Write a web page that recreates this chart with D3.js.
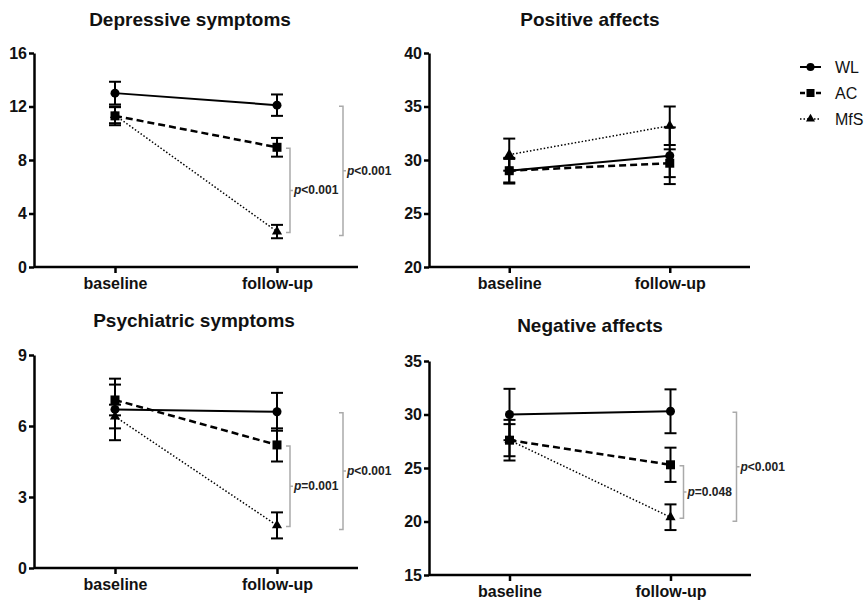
<!DOCTYPE html>
<html>
<head>
<meta charset="utf-8">
<script src="https://d3js.org/d3.v7.min.js"></script>
<style>
  body { margin: 0; background: #fff; }
  svg { display: block; font-family: Arial, 'Liberation Sans', Helvetica, sans-serif; }
</style>
</head>
<body>
<script>
// Groups and time points
const groups = ['WL', 'AC', 'MfS']
const timepoints = ['baseline', 'follow-up']

// Depressive symptoms (rows follow groups, columns follow timepoints)
const depressiveMeans = [[13.0, 12.1], [11.3, 8.95], [11.35, 2.65]]
const depressiveErrors = [[0.85, 0.8], [0.7, 0.7], [0.6, 0.5]]
const depressiveTicks = [0, 4, 8, 12, 16]
const depressiveBrackets = [
  { top: 'AC', bottom: 'MfS', label: '<0.001' },
  { top: 'WL', bottom: 'MfS', label: '<0.001' }
]

// Positive affects
const positiveMeans = [[29.0, 30.4], [29.0, 29.7], [30.5, 33.2]]
const positiveErrors = [[1.2, 2.65], [1.1, 1.3], [1.5, 1.8]]
const positiveTicks = [20, 25, 30, 35, 40]

// Psychiatric symptoms
const psychiatricMeans = [[6.7, 6.6], [7.1, 5.2], [6.4, 1.8]]
const psychiatricErrors = [[1.3, 0.8], [0.65, 0.7], [0.5, 0.55]]
const psychiatricTicks = [0, 3, 6, 9]
const psychiatricBrackets = [
  { top: 'AC', bottom: 'MfS', label: '=0.001' },
  { top: 'WL', bottom: 'MfS', label: '<0.001' }
]

// Negative affects
const negativeMeans = [[30.0, 30.3], [27.6, 25.3], [27.6, 20.4]]
const negativeErrors = [[2.4, 2.05], [1.5, 1.6], [1.9, 1.2]]
const negativeTicks = [15, 20, 25, 30, 35]
const negativeBrackets = [
  { top: 'AC', bottom: 'MfS', label: '=0.048' },
  { top: 'WL', bottom: 'MfS', label: '<0.001' }
]

const width = 868
const height = 604

const lineStyle = {
  WL: { dash: null, width: 2 },
  AC: { dash: '7,4', width: 2.5 },
  MfS: { dash: '1.5,2', width: 1.5 }
}

const panels = [
  { title: 'Depressive symptoms', means: depressiveMeans, errors: depressiveErrors, ticks: depressiveTicks, brackets: depressiveBrackets, box: { left: 34, right: 358, top: 53, bottom: 267 }, titleX: 190, titleY: 26 },
  { title: 'Positive affects', means: positiveMeans, errors: positiveErrors, ticks: positiveTicks, brackets: [], box: { left: 429, right: 750, top: 53, bottom: 267 }, titleX: 590, titleY: 26 },
  { title: 'Psychiatric symptoms', means: psychiatricMeans, errors: psychiatricErrors, ticks: psychiatricTicks, brackets: psychiatricBrackets, box: { left: 34, right: 358, top: 355, bottom: 568 }, titleX: 194, titleY: 327 },
  { title: 'Negative affects', means: negativeMeans, errors: negativeErrors, ticks: negativeTicks, brackets: negativeBrackets, box: { left: 429, right: 751, top: 361, bottom: 575 }, titleX: 590, titleY: 332 }
]

const svg = d3.select('body').append('svg')
  .attr('width', width)
  .attr('height', height)

svg.append('rect').attr('width', width).attr('height', height).attr('fill', '#fff')

function drawMarker (sel, group, size) {
  if (group === 'WL') {
    sel.append('circle').attr('r', size * 0.5).attr('fill', '#000')
  } else if (group === 'AC') {
    sel.append('rect').attr('x', -size / 2).attr('y', -size / 2)
      .attr('width', size).attr('height', size).attr('fill', '#000')
  } else {
    sel.append('path').attr('d', d3.symbol(d3.symbolTriangle, size * size * 0.55)())
      .attr('fill', '#000')
  }
}

panels.forEach((p) => {
  const g = svg.append('g')
  const x = d3.scalePoint().domain(timepoints).range([p.box.left, p.box.right]).padding(0.5)
  const y = d3.scaleLinear().domain(d3.extent(p.ticks)).range([p.box.bottom, p.box.top])

  // title
  g.append('text')
    .attr('x', p.titleX)
    .attr('y', p.titleY)
    .attr('text-anchor', 'middle')
    .attr('font-size', 19)
    .attr('font-weight', 'bold')
    .attr('fill', '#111')
    .text(p.title)

  // axes
  const yAxis = g.append('g')
    .attr('transform', `translate(${p.box.left},0)`)
    .call(d3.axisLeft(y).tickValues(p.ticks).tickSize(5).tickPadding(2).tickSizeOuter(0))
  const xAxis = g.append('g')
    .attr('transform', `translate(0,${p.box.bottom})`)
    .call(d3.axisBottom(x).tickSize(6).tickPadding(5).tickSizeOuter(0))
  xAxis.select('.domain').attr('d', `M${p.box.left},0H${p.box.right}`)

  ;[yAxis, xAxis].forEach((a) => {
    a.select('.domain').attr('stroke', '#000').attr('stroke-width', 2.5)
    a.selectAll('.tick line').attr('stroke', '#000').attr('stroke-width', 2.5)
    a.selectAll('.tick text')
      .attr('font-size', 16)
      .attr('font-weight', 'bold')
      .attr('fill', '#111')
      .style('font-family', 'Arial, "Liberation Sans", Helvetica, sans-serif')
  })

  // lines
  groups.forEach((grp, gi) => {
    const pts = timepoints.map((t, ti) => [x(t), y(p.means[gi][ti])])
    g.append('path')
      .attr('d', d3.line()(pts))
      .attr('fill', 'none')
      .attr('stroke', '#000')
      .attr('stroke-width', lineStyle[grp].width)
      .attr('stroke-dasharray', lineStyle[grp].dash)
  })

  // error bars and markers (draw from last group to first so WL is on top)
  groups.slice().reverse().forEach((grp) => {
    const gi = groups.indexOf(grp)
    timepoints.forEach((t, ti) => {
      const m = p.means[gi][ti]
      const e = p.errors[gi][ti]
      const cx = x(t)
      const eb = g.append('g').attr('stroke', '#000').attr('stroke-width', 2)
      eb.append('line').attr('x1', cx).attr('x2', cx).attr('y1', y(m - e)).attr('y2', y(m + e))
      eb.append('line').attr('x1', cx - 6).attr('x2', cx + 6).attr('y1', y(m - e)).attr('y2', y(m - e))
      eb.append('line').attr('x1', cx - 6).attr('x2', cx + 6).attr('y1', y(m + e)).attr('y2', y(m + e))
      const mk = g.append('g').attr('transform', `translate(${cx},${y(m)})`)
      drawMarker(mk, grp, 9)
    })
  })

  // significance brackets at follow-up
  const fx = x('follow-up')
  p.brackets.forEach((b, bi) => {
    const bx = fx + (bi === 0 ? 13 : 66)
    const y1 = y(p.means[groups.indexOf(b.top)][1]) + 1
    const y2 = y(p.means[groups.indexOf(b.bottom)][1]) + (bi === 0 ? 1 : 4)
    const ym = (y1 + y2) / 2
    g.append('path')
      .attr('d', `M${bx - 4},${y1}H${bx}V${y2}H${bx - 4}M${bx},${ym}H${bx + 3}`)
      .attr('fill', 'none')
      .attr('stroke', '#aaa')
      .attr('stroke-width', 1.5)
    const lbl = g.append('text')
      .attr('x', bx + 4)
      .attr('y', ym + 4)
      .attr('font-size', 12)
      .attr('font-weight', 'bold')
      .attr('fill', '#222')
    lbl.append('tspan').attr('font-style', 'italic').text('p')
    lbl.append('tspan').text(b.label)
  })
})

// legend
const legend = svg.append('g').attr('transform', 'translate(800,67)')
groups.forEach((grp, i) => {
  const row = legend.append('g').attr('transform', `translate(0,${i * 26})`)
  row.append('line')
    .attr('x1', 0).attr('x2', 21)
    .attr('stroke', '#000')
    .attr('stroke-width', lineStyle[grp].width)
    .attr('stroke-dasharray', lineStyle[grp].dash === null ? null : (grp === 'AC' ? '5,3' : '1.5,2'))
  const mk = row.append('g').attr('transform', 'translate(10.5,0)')
  drawMarker(mk, grp, 8)
  row.append('text')
    .attr('x', 35)
    .attr('y', 6)
    .attr('font-size', 16)
    .attr('fill', '#111')
    .text(grp)
})
</script>
</body>
</html>
